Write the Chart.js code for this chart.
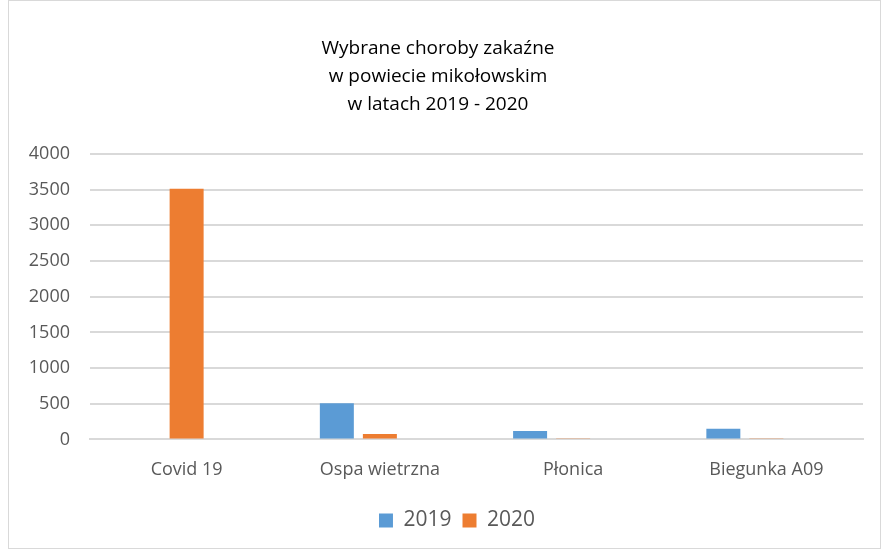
<!DOCTYPE html>
<html>
<head>
<meta charset="utf-8">
<script src="https://cdn.jsdelivr.net/npm/chart.js@4.4.1/dist/chart.umd.min.js"></script>
<style>
    body { margin: 0; background: #fff; }
    .frame {
        position: absolute;
        left: 8px;
        top: 0px;
        width: 871px;
        height: 547px;
        border: 1px solid #d9d9d9;
    }
</style>
</head>
<body>
<div class="frame">
    <canvas id="chorobyChart" width="871" height="547"></canvas>
</div>
<script>
// data
const categories = ['Covid 19', 'Ospa wietrzna', 'Płonica', 'Biegunka A09'];
const values2019 = [0, 508, 117, 148];
const values2020 = [3512, 74, 8, 8];
const emptySeries = [null, null, null, null]; // third (empty) series, keeps Excel's spacing
const yTicks = [0, 500, 1000, 1500, 2000, 2500, 3000, 3500, 4000];

const textColor = '#595959';
const gridColor = '#d9d9d9';

const chartData = {
    labels: categories,
    datasets: [
        { label: '2019', data: values2019, backgroundColor: '#5B9BD5' },
        { label: '2020', data: values2020, backgroundColor: '#ED7D31' },
        { label: '', data: emptySeries, backgroundColor: 'rgba(0,0,0,0)' }
    ]
};

// legend sits a bit right of centre in the original
const legendShift = {
    id: 'legendShift',
    afterLayout: function(chart) {
        chart.legend.left += 19;
        chart.legend.right += 19;
    }
};

const chartConfig = {
    type: 'bar',
    data: chartData,
    plugins: [legendShift],
    options: {
        responsive: false,
        animation: false,
        datasets: {
            bar: { categoryPercentage: 0.668, barPercentage: 0.79 }
        },
        layout: {
            padding: { left: 4, right: 17, top: 0, bottom: 7 }
        },
        plugins: {
            title: {
                display: true,
                text: ['Wybrane choroby zakaźne', 'w powiecie mikołowskim', 'w latach 2019 - 2020'],
                color: '#000',
                font: { family: 'Open Sans', size: 19, weight: 'normal', lineHeight: '28px' },
                padding: { top: 34, bottom: 35 }
            },
            legend: {
                position: 'bottom',
                labels: {
                    color: textColor,
                    font: { family: 'Open Sans', size: 21 },
                    boxWidth: 14,
                    boxHeight: 14,
                    padding: 11,
                    filter: function(item) { return item.text !== ''; }
                }
            },
            tooltip: { enabled: false }
        },
        scales: {
            x: {
                grid: { display: false },
                border: { color: gridColor, width: 2 },
                afterFit: function(axis) {
                    axis.height += 6;
                },
                ticks: {
                    color: textColor,
                    font: { family: 'Open Sans', size: 18 },
                    padding: 12
                }
            },
            y: {
                min: 0,
                max: 4000,
                afterBuildTicks: function(axis) {
                    axis.ticks = yTicks.map(v => ({ value: v }));
                },
                afterFit: function(axis) {
                    axis.width = 77;
                },
                grid: { color: gridColor, lineWidth: 2, drawTicks: false },
                border: { display: false },
                ticks: {
                    color: textColor,
                    font: { family: 'Open Sans', size: 18 },
                    padding: 20,
                    callback: function(value) { return String(value); }
                }
            }
        }
    }
};

const chorobyChart = new Chart(document.getElementById('chorobyChart'), chartConfig);
</script>
</body>
</html>
